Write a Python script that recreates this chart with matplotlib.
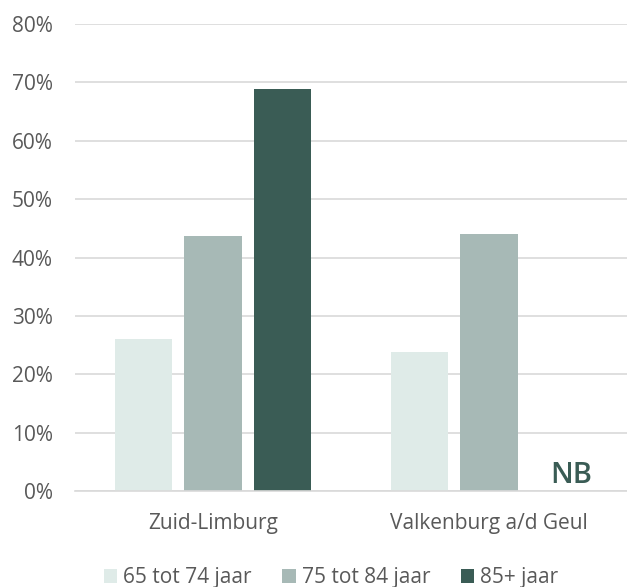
import numpy as np
import matplotlib.pyplot as plt
from matplotlib.ticker import PercentFormatter

regions = ['Zuid-Limburg', 'Valkenburg a/d Geul']
series = ['65 tot 74 jaar', '75 tot 84 jaar', '85+ jaar']
values = [
    [26.0, 23.8],
    [43.7, 44.0],
    [68.8, np.nan],  # NB voor Valkenburg
]
colors = ['#dfebe8', '#a7b9b6', '#3a5c55']


def main():
    plt.rcParams['font.family'] = ['Open Sans', 'DejaVu Sans']
    fig = plt.figure(figsize=(6.27, 5.87), dpi=100)
    ax = fig.add_axes([0.1196, 0.1635, 0.8804, 0.7955])

    x = np.arange(len(regions))
    step = 0.252
    width = 0.209
    for i, (name, vals) in enumerate(zip(series, values)):
        ax.bar(x + (i - 1) * step, vals, width, color=colors[i], label=name, zorder=2)

    # niet bekend
    ax.text(x[1] + step + 0.045, 1.37, 'NB', ha='center', va='baseline', fontsize=21,
            fontweight='semibold', color='#3a5c55')

    ax.set_xlim(-0.5, 1.5)
    ax.set_ylim(0, 80)
    ax.set_yticks(range(0, 81, 10))
    ax.yaxis.set_major_formatter(PercentFormatter(decimals=0))
    ax.set_xticks(x)
    ax.set_xticklabels(regions)
    ax.grid(axis='y', color='#d9d9d9', linewidth=1.2, zorder=0)
    for s in ['top', 'right', 'left']:
        ax.spines[s].set_visible(False)
    ax.spines['bottom'].set_color('#d9d9d9')
    ax.spines['bottom'].set_linewidth(1.2)
    ax.tick_params(length=0, labelsize=15, labelcolor='#595959')
    ax.tick_params(axis='x', pad=16)
    ax.tick_params(axis='y', pad=16)

    fig.legend(loc='lower center', bbox_to_anchor=(0.528, -0.034), ncol=3, frameon=False,
               fontsize=15, labelcolor='#595959', handlelength=0.65, handleheight=0.65,
               handletextpad=0.3, columnspacing=1.45)
    fig.savefig('out.png', dpi=100)


if __name__ == "__main__":
    main()
